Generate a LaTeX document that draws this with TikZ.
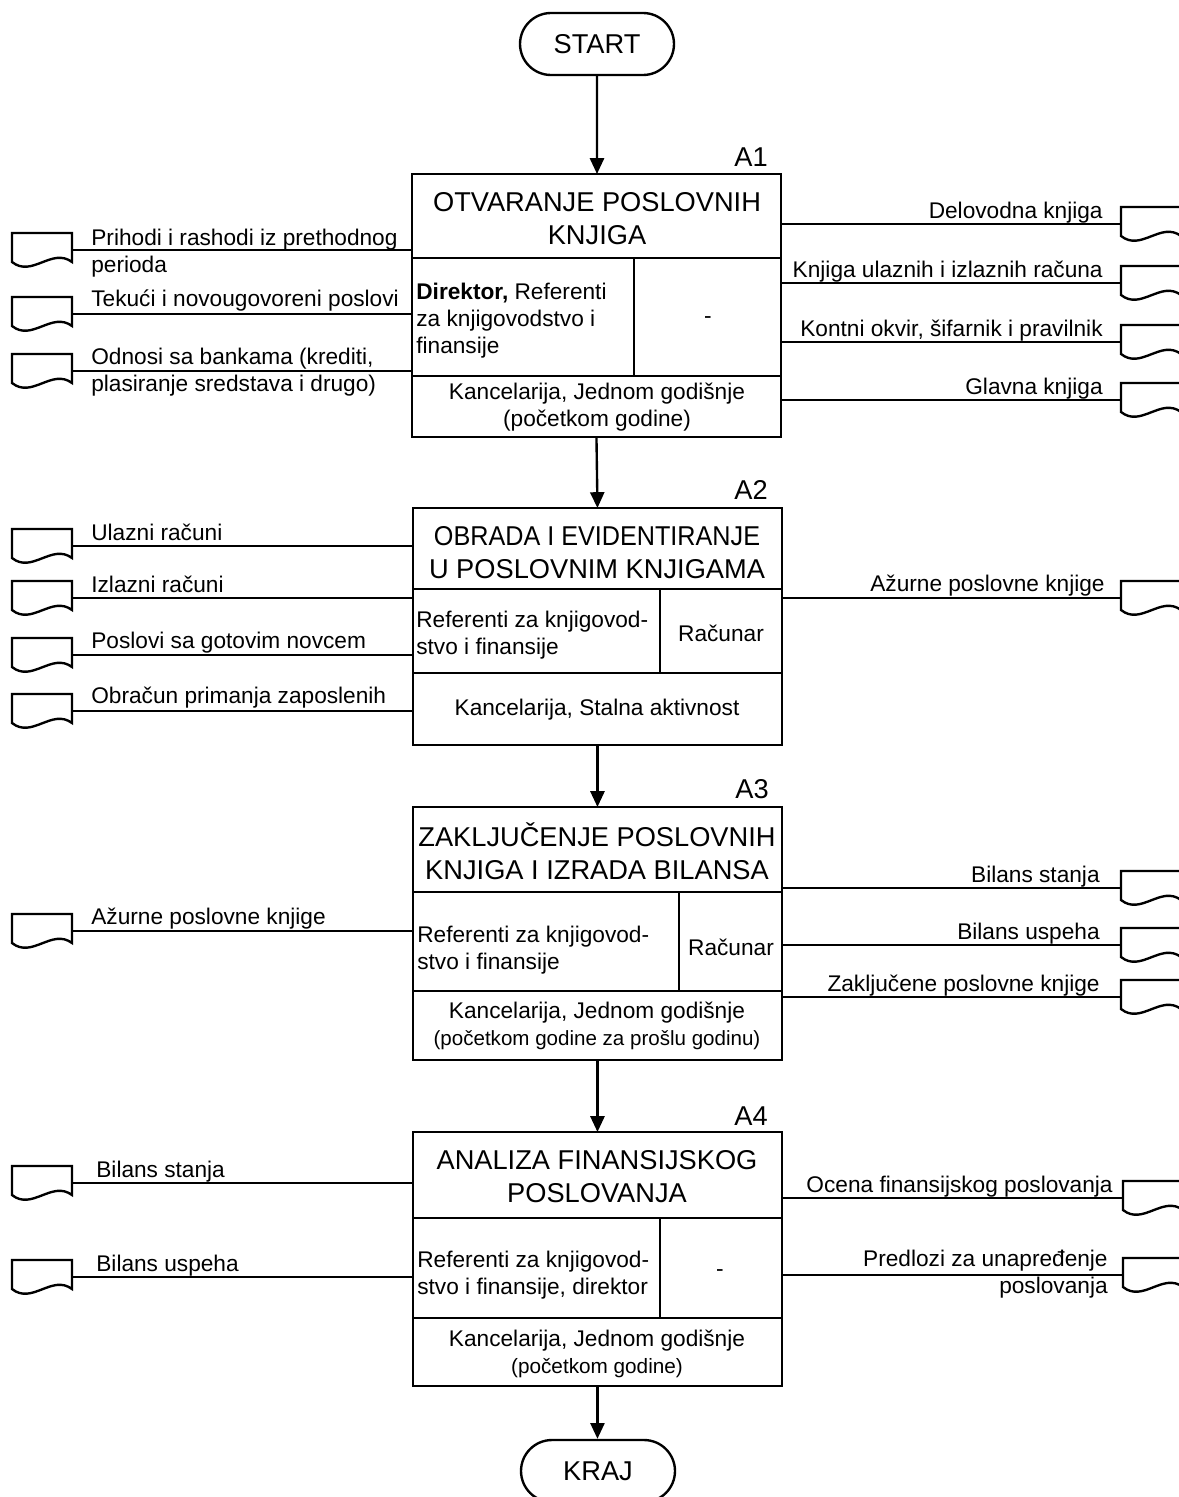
\documentclass[tikz,border=0pt]{standalone}
\usepackage{fontspec}
\setmainfont{Liberation Sans}
\usepackage{graphicx}
\usetikzlibrary{arrows.meta, positioning, shapes.misc, calc}

\tikzset{
  docsym/.pic={
    \draw[docline] (0,0) -- (60,0) -- (60,29)
      .. controls (40,14) and (20,45) .. (0,29) -- cycle;
    \coordinate (-e) at (60,17);
    \coordinate (-w) at (0,17);
  }
}

\begin{document}
\begin{tikzpicture}[
  x=0.02cm, y=-0.02cm,
  >={Triangle[width=8pt,length=9pt]},
  % Font sizes
  bodyfont/.style={font=\fontsize{12.9}{15.3}\selectfont},
  bigfont/.style={font=\fontsize{15.5}{18.7}\selectfont},
  % Node styles
  terminal/.style={draw, rounded rectangle, line width=1.35pt, bigfont,
    minimum width=3.08cm, minimum height=1.24cm, inner sep=0pt},
  procbox/.style={draw, line width=1.35pt, anchor=north west, inner sep=0pt,
    outer sep=0pt, minimum width=7.38cm},
  titletext/.style={bigfont, align=center, inner sep=0pt},
  actortext/.style={bodyfont, align=left, anchor=west, inner sep=0pt},
  celltext/.style={bodyfont, align=center, inner sep=0pt},
  boxid/.style={bigfont, anchor=base east, inner sep=0pt},
  inlabel/.style={bodyfont, align=left, anchor=base west, inner sep=0pt},
  outlabel/.style={bodyfont, align=right, anchor=base east, inner sep=0pt},
  % Edge styles
  docline/.style={line width=1.35pt},
  divider/.style={line width=1.35pt},
  flow/.style={line width=1.35pt},
  link/.style={->, line width=1.35pt}
]
\useasboundingbox (0,0) rectangle (1178,1497);

% ------------------------------------------------------------
% Terminals and process boxes
% ------------------------------------------------------------
\node[terminal] (start) at (597,44) {START};
\node[terminal] (kraj) at (598,1471) {KRAJ};

\node[procbox, minimum height=5.26cm] (a1) at (412,174) {};
\node[procbox, minimum height=4.74cm] (a2) at (413,508) {};
\node[procbox, minimum height=5.06cm] (a3) at (413,807) {};
\node[procbox, minimum height=5.08cm] (a4) at (413,1132) {};

\node[boxid] (a1id) at (768,166) {A1};
\node[boxid] (a2id) at (768,499) {A2};
\node[boxid] (a3id) at (769,798) {A3};
\node[boxid] (a4id) at (768,1125) {A4};

% Main flow
\draw[link] (start) -- (start |- a1.north);
\draw[link] (a1.south) -- (a2.north);
\draw[link] (a2.south) -- (a3.north);
\draw[link] (a3.south) -- (a4.north);
\draw[link] (a4.south) -- (a4.south |- kraj.north);

% =========================
% A1: Otvaranje poslovnih knjiga
% =========================
\draw[divider] (412,258) -- (781,258);
\draw[divider] (634,258) -- (634,376);
\draw[divider] (412,376) -- (781,376);

\node[titletext] (a1t) at (597,219) {OTVARANJE POSLOVNIH\\KNJIGA};
\node[actortext] (a1a) at (416,321) {\textbf{Direktor,} Referenti\\za knjigovodstvo i\\finansije};
\node[celltext] (a1m) at (708,320) {-};
\node[celltext] (a1p) at (597,407) {Kancelarija, Jednom godišnje\\(početkom godine)};

% Inputs (two-line labels: base is the last line)
\pic (l11) at (12,233) {docsym};
\pic (l12) at (12,297) {docsym};
\pic (l13) at (12,354) {docsym};
\draw[flow] (l11-e) -- (l11-e -| a1.west);
\draw[flow] (l12-e) -- (l12-e -| a1.west);
\draw[flow] (l13-e) -- (l13-e -| a1.west);
\node[inlabel] (l11t) at (91,272) {Prihodi i rashodi iz prethodnog\\perioda};
\node[inlabel] (l12t) at (91,306) {Tekući i novougovoreni poslovi};
\node[inlabel] (l13t) at (91,391) {Odnosi sa bankama (krediti,\\plasiranje sredstava i drugo)};

% Outputs
\pic (r11) at (1121,207) {docsym};
\pic (r12) at (1121,266) {docsym};
\pic (r13) at (1121,325) {docsym};
\pic (r14) at (1121,383) {docsym};
\draw[flow] (a1.east |- r11-w) -- (r11-w);
\draw[flow] (a1.east |- r12-w) -- (r12-w);
\draw[flow] (a1.east |- r13-w) -- (r13-w);
\draw[flow] (a1.east |- r14-w) -- (r14-w);
\node[outlabel] (r11t) at (1103,218) {Delovodna knjiga};
\node[outlabel] (r12t) at (1103,277) {Knjiga ulaznih i izlaznih računa};
\node[outlabel] (r13t) at (1103,336) {Kontni okvir, šifarnik i pravilnik};
\node[outlabel] (r14t) at (1103,394) {Glavna knjiga};

% =========================
% A2: Obrada i evidentiranje
% =========================
\draw[divider] (413,589) -- (782,589);
\draw[divider] (660,589) -- (660,673);
\draw[divider] (413,673) -- (782,673);

\node[titletext] (a2t) at (597,553) {\scalebox{0.925}[1]{OBRADA I EVIDENTIRANJE}\\U POSLOVNIM KNJIGAMA};
\node[actortext] (a2a) at (416,635) {Referenti za knjigovod-\\stvo i finansije};
\node[celltext] (a2m) at (721,633) {Računar};
\node[celltext] (a2p) at (597,710) {Kancelarija, Stalna aktivnost};

\pic (l21) at (12,529) {docsym};
\pic (l22) at (12,581) {docsym};
\pic (l23) at (12,638) {docsym};
\pic (l24) at (12,694) {docsym};
\draw[flow] (l21-e) -- (l21-e -| a2.west);
\draw[flow] (l22-e) -- (l22-e -| a2.west);
\draw[flow] (l23-e) -- (l23-e -| a2.west);
\draw[flow] (l24-e) -- (l24-e -| a2.west);
\node[inlabel] (l21t) at (91,540) {Ulazni računi};
\node[inlabel] (l22t) at (91,592) {Izlazni računi};
\node[inlabel] (l23t) at (91,648) {Poslovi sa gotovim novcem};
\node[inlabel] (l24t) at (91,703) {Obračun primanja zaposlenih};

\pic (r21) at (1121,581) {docsym};
\draw[flow] (a2.east |- r21-w) -- (r21-w);
\node[outlabel] (r21t) at (1105,591) {Ažurne poslovne knjige};

% =========================
% A3: Zaključenje poslovnih knjiga
% =========================
\draw[divider] (413,892) -- (782,892);
\draw[divider] (679,892) -- (679,991);
\draw[divider] (413,991) -- (782,991);

\node[titletext] (a3t) at (597,851) {ZAKLJUČENJE POSLOVNIH\\KNJIGA I IZRADA BILANSA};
\node[actortext] (a3a) at (417,950) {Referenti za knjigovod-\\stvo i finansije};
\node[celltext] (a3m) at (731,947) {Računar};
\node[celltext] (a3p) at (597,1026) {Kancelarija, Jednom godišnje\\{\fontsize{11.7}{14}\selectfont (početkom godine za prošlu godinu)}};

\pic (l31) at (12,914) {docsym};
\draw[flow] (l31-e) -- (l31-e -| a3.west);
\node[inlabel] (l31t) at (91,924) {Ažurne poslovne knjige};

\pic (r31) at (1121,871) {docsym};
\pic (r32) at (1121,928) {docsym};
\pic (r33) at (1121,980) {docsym};
\draw[flow] (a3.east |- r31-w) -- (r31-w);
\draw[flow] (a3.east |- r32-w) -- (r32-w);
\draw[flow] (a3.east |- r33-w) -- (r33-w);
\node[outlabel] (r31t) at (1100,882) {Bilans stanja};
\node[outlabel] (r32t) at (1100,939) {Bilans uspeha};
\node[outlabel] (r33t) at (1100,991) {Zaključene poslovne knjige};

% =========================
% A4: Analiza finansijskog poslovanja
% =========================
\draw[divider] (413,1218) -- (782,1218);
\draw[divider] (660,1218) -- (660,1318);
\draw[divider] (413,1318) -- (782,1318);

\node[titletext] (a4t) at (597,1177) {ANALIZA FINANSIJSKOG\\POSLOVANJA};
\node[actortext] (a4a) at (417,1275) {Referenti za knjigovod-\\stvo i finansije, direktor};
\node[celltext] (a4m) at (720,1273) {-};
\node[celltext] (a4p) at (597,1354) {Kancelarija, Jednom godišnje\\{\fontsize{11.8}{14}\selectfont (početkom godine)}};

\pic (l41) at (12,1166) {docsym};
\pic (l42) at (12,1260) {docsym};
\draw[flow] (l41-e) -- (l41-e -| a4.west);
\draw[flow] (l42-e) -- (l42-e -| a4.west);
\node[inlabel] (l41t) at (96,1177) {Bilans stanja};
\node[inlabel] (l42t) at (96,1271) {Bilans uspeha};

\pic (r41) at (1123,1181) {docsym};
\pic (r42) at (1123,1258) {docsym};
\draw[flow] (a4.east |- r41-w) -- (r41-w);
\draw[flow] (a4.east |- r42-w) -- (r42-w);
\node[outlabel] (r41t) at (1113,1192) {Ocena finansijskog poslovanja};
\node[outlabel] (r42t) at (1108,1293) {Predlozi za unapređenje\\poslovanja};

\end{tikzpicture}
\end{document}
